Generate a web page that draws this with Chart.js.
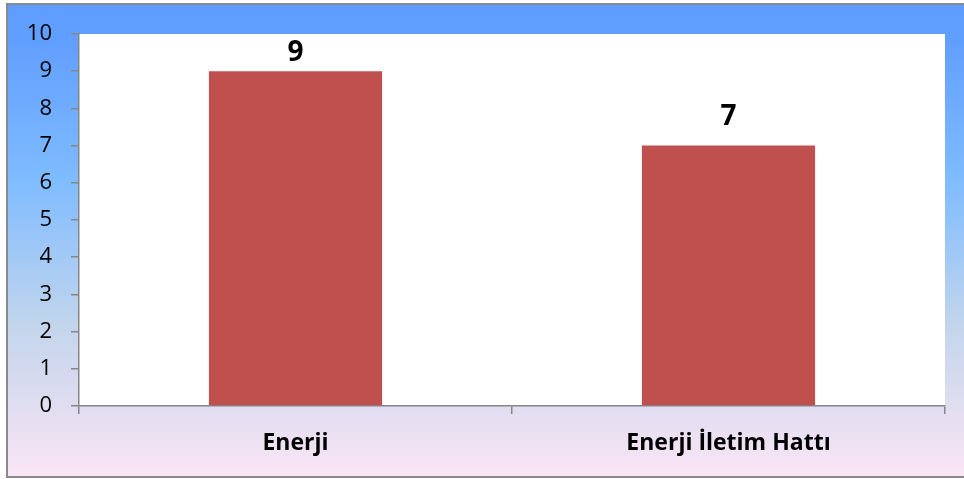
<!DOCTYPE html>
<html>
<head>
<meta charset="utf-8">
<script src="https://cdn.jsdelivr.net/npm/chart.js@4"></script>
<style>
  html, body { margin: 0; padding: 0; background: #ffffff; }
  #wrap { width: 964px; height: 479px; }
</style>
</head>
<body>
<div id="wrap"><canvas id="c" width="964" height="479"></canvas></div>
<script>
const categories = ["Enerji", "Enerji İletim Hattı"];
const values = [9, 7];
const yTicks = [0, 1, 2, 3, 4, 5, 6, 7, 8, 9, 10];

const FONT = "'Open Sans', 'Noto Sans', sans-serif";

const bgPlugin = {
  id: 'bg',
  beforeDraw(chart) {
    const ctx = chart.ctx;
    const W = chart.width, H = chart.height;
    ctx.save();
    ctx.fillStyle = '#ffffff';
    ctx.fillRect(0, 0, W, H);
    const g = ctx.createLinearGradient(0, 4, 0, 477);
    g.addColorStop(0.0, '#5E9CFF');
    g.addColorStop(0.08, '#619FFF');
    g.addColorStop(0.38, '#80BCFF');
    g.addColorStop(0.68, '#C2D5EC');
    g.addColorStop(0.85, '#E0DDF0');
    g.addColorStop(1.0, '#FAE6F6');
    ctx.fillStyle = g;
    ctx.fillRect(7, 4, W - 7, 473);
    ctx.strokeStyle = '#8A8A8A';
    ctx.lineWidth = 2;
    ctx.beginPath();
    ctx.moveTo(W + 2, 4);
    ctx.lineTo(7, 4);
    ctx.lineTo(7, 477);
    ctx.lineTo(W + 2, 477);
    ctx.stroke();
    const a = chart.chartArea;
    ctx.fillStyle = '#ffffff';
    ctx.fillRect(a.left, a.top, a.right - a.left, a.bottom - a.top);
    ctx.restore();
  }
};

const labelPlugin = {
  id: 'vals',
  afterDatasetsDraw(chart) {
    const ctx = chart.ctx;
    const a = chart.chartArea;
    ctx.save();
    ctx.font = "bold 28px " + FONT;
    ctx.fillStyle = '#000000';
    ctx.textAlign = 'center';
    ctx.textBaseline = 'alphabetic';
    chart.getDatasetMeta(0).data.forEach((bar, i) => {
      const y = Math.max(bar.y - 21, a.top + 27);
      ctx.fillText(String(values[i]), bar.x, y);
    });
    ctx.restore();
  }
};

new Chart(document.getElementById('c'), {
  type: 'bar',
  data: {
    labels: categories,
    datasets: [{
      data: values,
      backgroundColor: '#C0504D',
      borderWidth: 0,
      categoryPercentage: 1.0,
      barPercentage: 0.4
    }]
  },
  options: {
    responsive: false,
    animation: false,
    devicePixelRatio: 1,
    layout: { padding: { top: 34, right: 19, left: 0, bottom: 0 } },
    plugins: { legend: { display: false }, tooltip: { enabled: false } },
    scales: {
      x: {
        offset: true,
        grid: { display: true, offset: true, drawOnChartArea: false, drawTicks: true, tickLength: 8, color: '#868686', lineWidth: 1.5 },
        border: { display: true, color: '#868686', width: 1.5 },
        ticks: { color: '#000000', font: { family: FONT, size: 23, weight: 'bold' }, padding: 16, maxRotation: 0 },
        afterFit(s) { s.height = 73; }
      },
      y: {
        min: 0, max: 10,
        afterBuildTicks(s) { s.ticks = yTicks.map(v => ({ value: v })); },
        grid: { display: true, drawOnChartArea: false, drawTicks: true, tickLength: 8, color: '#868686', lineWidth: 1.5 },
        border: { display: true, color: '#868686', width: 1.5 },
        ticks: { color: '#000000', font: { family: FONT, size: 22 }, padding: 19 },
        afterFit(s) { s.width = 79; }
      }
    }
  },
  plugins: [bgPlugin, labelPlugin]
});
</script>
</body>
</html>
